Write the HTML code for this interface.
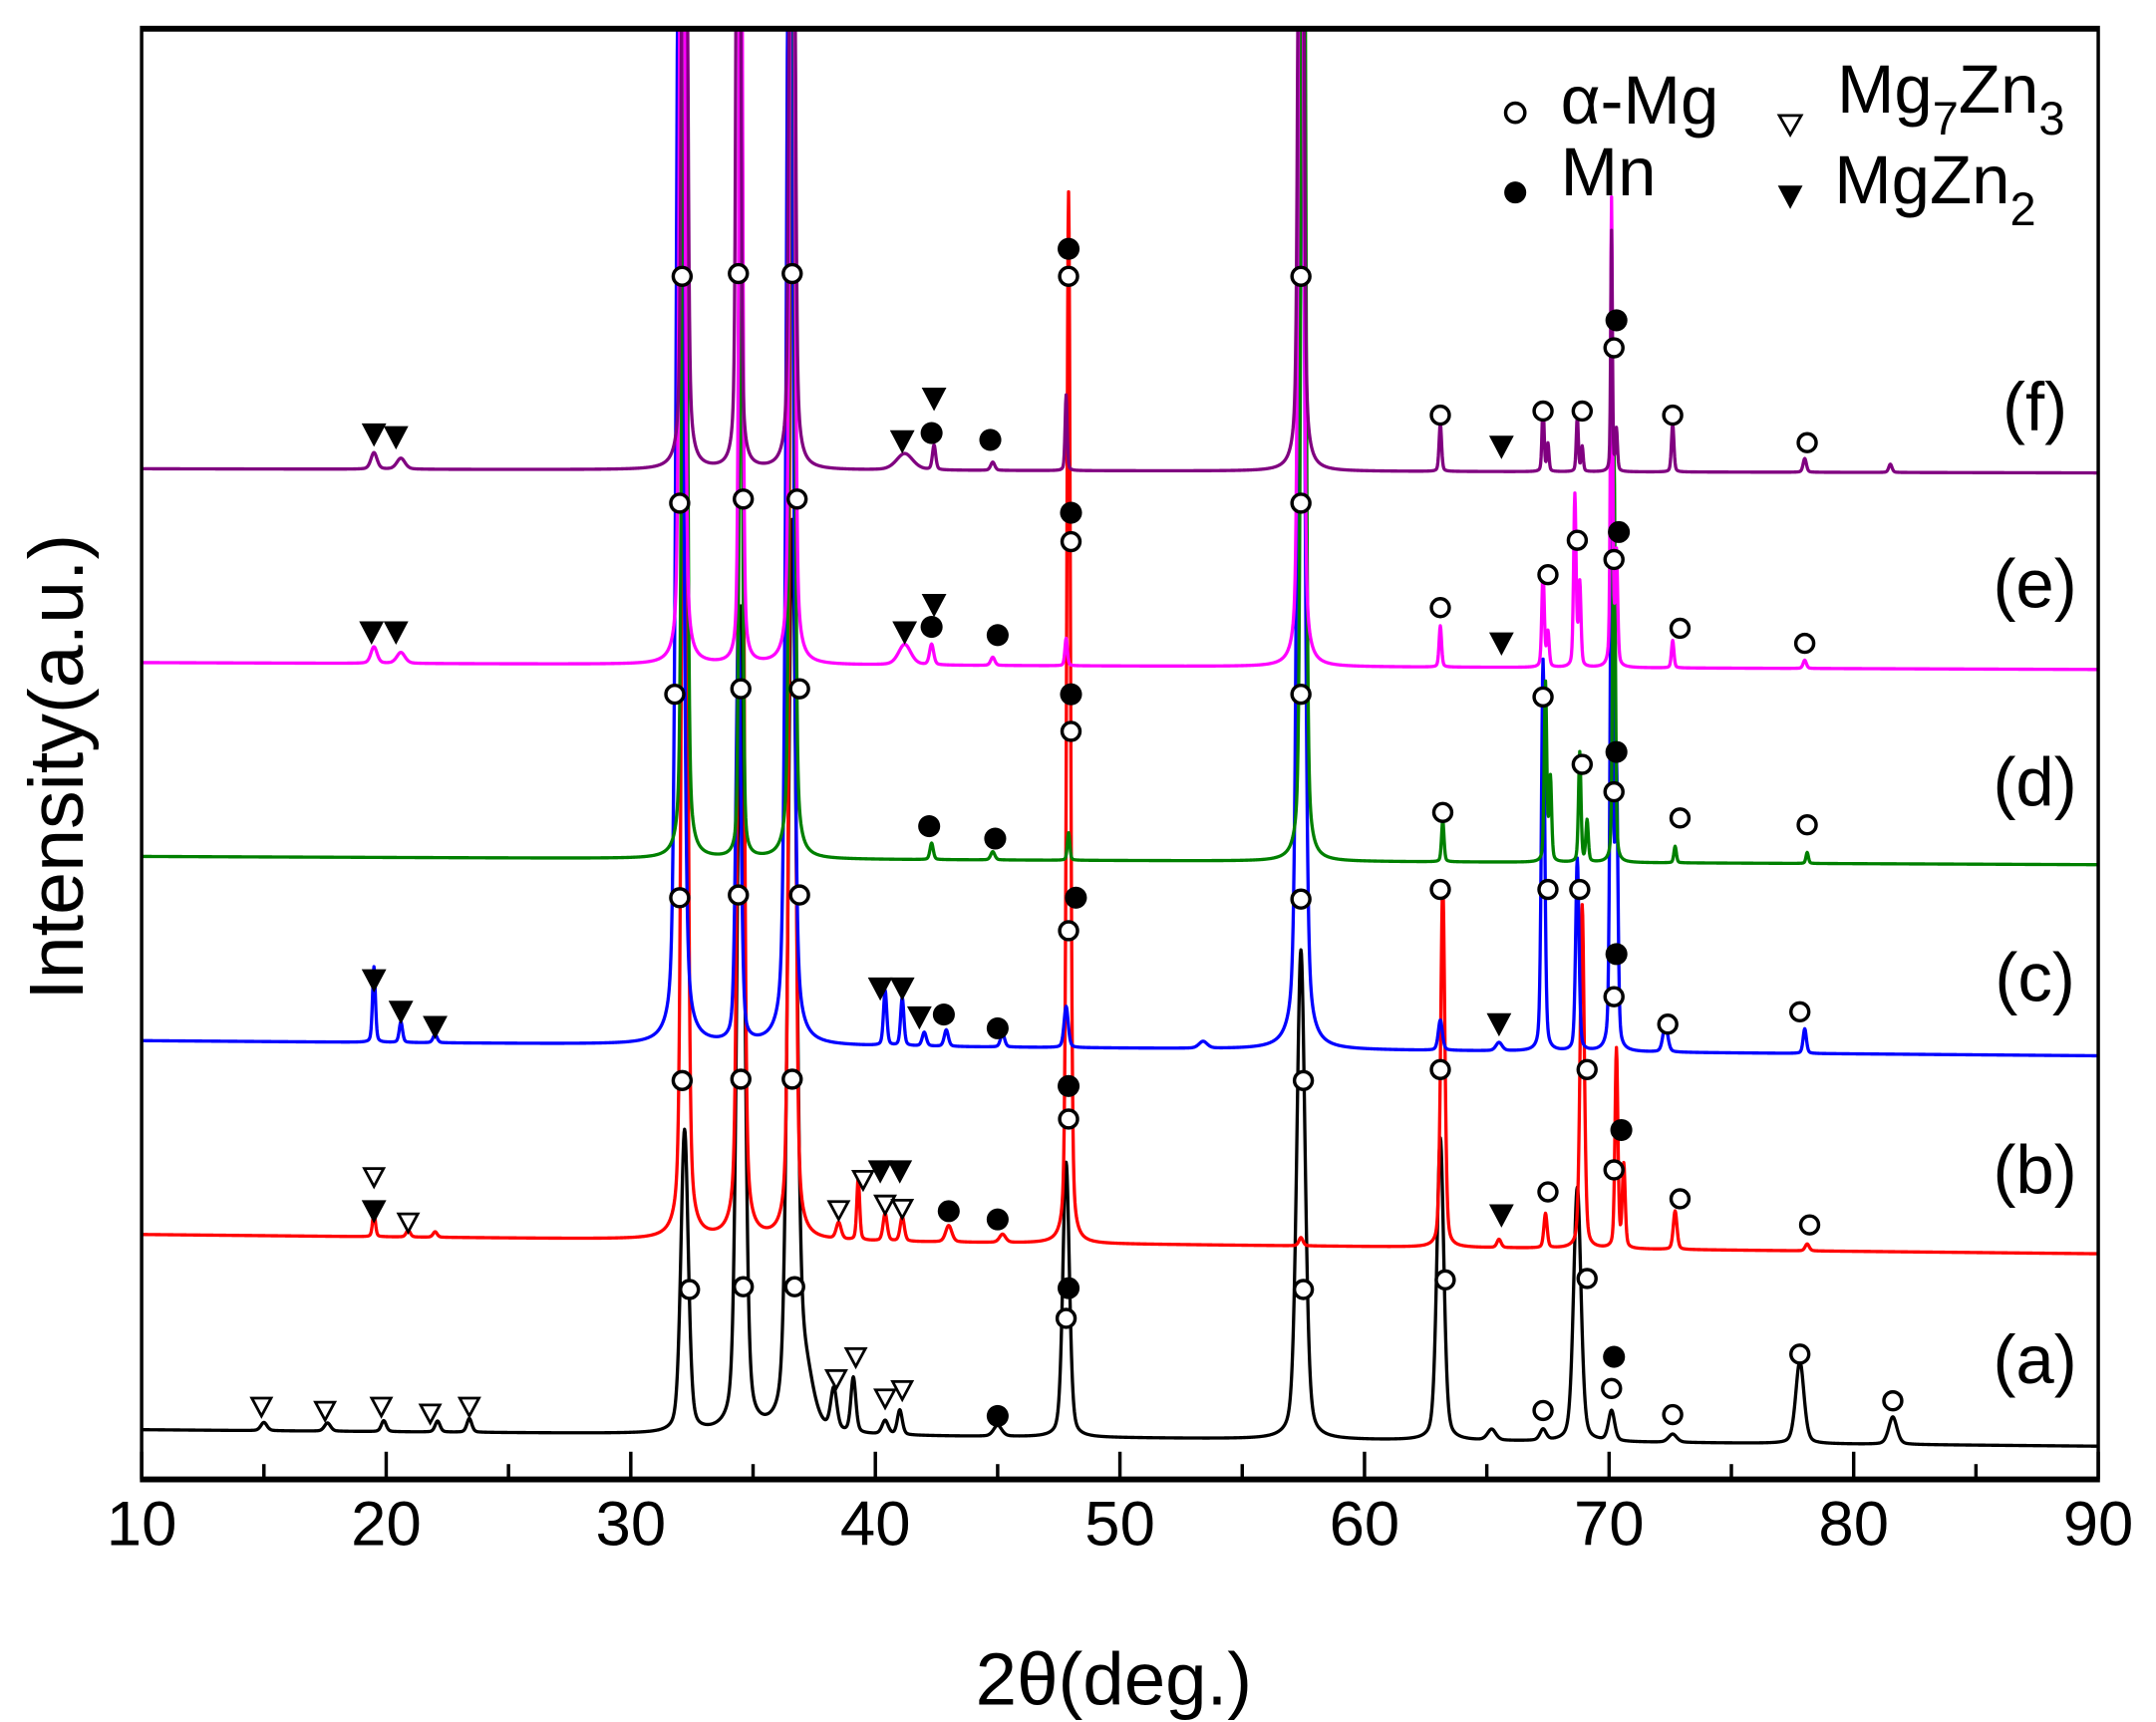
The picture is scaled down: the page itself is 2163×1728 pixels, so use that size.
<!DOCTYPE html>
<html><head><meta charset="utf-8"><style>
html,body{margin:0;padding:0;background:#fff}
svg{display:block}
text{font-family:"Liberation Sans",sans-serif;fill:#000}
</style></head><body>
<svg id="chart" width="2163" height="1728" viewBox="0 0 1568 1252.6" preserveAspectRatio="none" xmlns="http://www.w3.org/2000/svg">
<defs><clipPath id="pc"><rect x="103" y="20" width="1423" height="1057"/></clipPath></defs>
<g id="series" clip-path="url(#pc)"></g>
<g id="markers"></g>
<rect x="103" y="20" width="1423" height="1057" fill="none" stroke="#000" stroke-width="2.5"/>
<line x1="103" y1="21" x2="1526" y2="21" stroke="#000" stroke-width="4"/>
<line x1="103" y1="1076" x2="1526" y2="1076" stroke="#000" stroke-width="4"/>
<g id="ticks"></g>
<text x="810" y="1240" font-size="54" text-anchor="middle">2θ(deg.)</text>
<text transform="translate(60,558) rotate(-90)" font-size="56" text-anchor="middle">Intensity(a.u.)</text>
<g>
<circle cx="1102" cy="82" r="7" fill="#fff" stroke="#000" stroke-width="2.5"/>
<text x="1135" y="90" font-size="50">α-Mg</text>
<path d="M1294,84 L1310,84 L1302,98 Z" fill="#fff" stroke="#000" stroke-width="2"/>
<text x="1336" y="82" font-size="50">Mg<tspan font-size="34" dy="16">7</tspan><tspan dy="-16">Zn</tspan><tspan font-size="34" dy="16">3</tspan></text>
<circle cx="1102" cy="140" r="8" fill="#000"/>
<text x="1135" y="142" font-size="50">Mn</text>
<path d="M1293,135 L1311,135 L1302,152 Z" fill="#000"/>
<text x="1334" y="148" font-size="50">MgZn<tspan font-size="34" dy="16">2</tspan></text>
</g>
<g font-size="50" text-anchor="middle">
<text x="1480" y="313">(f)</text>
<text x="1480" y="442">(e)</text>
<text x="1480" y="586">(d)</text>
<text x="1480" y="728">(c)</text>
<text x="1480" y="868">(b)</text>
<text x="1480" y="1006">(a)</text>
</g>
</svg>
<script>
const xTicks=[10,20,30,40,50,60,70,80,90];
const xMinorTicks=[15,25,35,45,55,65,75,85];
// series: baseline start/end (display units), peak positions, heights, widths
const seriesNames=["a","b","c","d","e","f"];
const seriesColors=["#000000","#ff0000","#0000ff","#008000","#ff00ff","#800080"];
const baseStart=[1040,898,757,623,482,341];
const baseEnd=[1052,912,768,629,487,344];
const posA=[15,17.6,19.9,22.1,23.4,32.2,34.5,36.6,37.1,38.3,39.1,40.4,41.0,45.0,47.8,57.4,63.1,65.2,67.3,68.7,70.1,72.6,77.8,81.6];
const hA=[6,6,8,8,10,220,600,650,40,30,40,10,18,8,200,356,220,8,8,185,22,6,60,20];
const wA=[0.15,0.15,0.12,0.12,0.12,0.18,0.18,0.2,0.4,0.15,0.12,0.15,0.12,0.2,0.16,0.2,0.17,0.2,0.15,0.18,0.15,0.2,0.2,0.2];
const posB=[19.5,20.9,22,32.2,34.5,36.6,38.5,39.3,40.4,41.1,43,45.2,47.9,57.4,63.2,65.5,67.4,68.9,70.3,70.6,72.7,78.1];
const hB=[18,5,4,1000,1000,1000,12,45,20,18,12,6,765,6,265,6,25,250,145,60,28,5];
const wB=[0.07,0.1,0.1,0.12,0.12,0.12,0.12,0.07,0.1,0.1,0.15,0.15,0.09,0.1,0.1,0.1,0.08,0.1,0.07,0.07,0.09,0.1];
const posC=[19.5,20.6,22,32.0,34.4,36.5,40.4,41.1,42,42.9,45.2,47.8,53.4,57.4,63.1,65.5,67.3,68.7,70.1,70.3,72.3,78];
const hC=[55,15,6,1000,300,1000,40,35,10,12,10,30,5,1000,22,6,285,140,400,200,20,18];
const wC=[0.07,0.08,0.1,0.15,0.12,0.15,0.08,0.08,0.1,0.1,0.1,0.1,0.2,0.15,0.1,0.15,0.08,0.08,0.07,0.07,0.12,0.08];
const posD=[32.2,34.5,36.6,42.3,44.8,47.9,57.5,63.2,67.4,67.6,68.8,69.1,70.2,72.7,78.1];
const hD=[1000,500,1000,12,6,20,1000,30,130,60,80,30,300,12,8];
const wD=[0.1,0.08,0.1,0.08,0.1,0.06,0.1,0.06,0.06,0.06,0.06,0.06,0.06,0.06,0.06];
const posE=[19.5,20.6,32.1,34.5,36.6,41.2,42.3,44.8,47.8,57.4,63.1,67.3,67.5,68.6,68.8,70.1,70.3,72.6,78];
const hE=[12,8,1000,700,1000,15,15,6,20,1000,30,70,25,125,60,340,80,20,6];
const wE=[0.15,0.2,0.1,0.08,0.1,0.3,0.1,0.1,0.06,0.1,0.06,0.06,0.06,0.06,0.06,0.05,0.06,0.06,0.08];
const posF=[19.5,20.6,32.2,34.4,36.6,41.2,42.4,44.8,47.8,57.4,63.1,67.3,67.5,68.7,68.9,70.1,70.3,72.6,78,81.5];
const hF=[12,8,1000,1000,1000,12,18,6,55,1000,35,50,20,40,18,175,30,35,10,6];
const wF=[0.15,0.2,0.1,0.08,0.1,0.4,0.08,0.1,0.05,0.1,0.06,0.05,0.05,0.05,0.05,0.04,0.05,0.06,0.08,0.08];
const allPos=[posA,posB,posC,posD,posE,posF];
const allH=[hA,hB,hC,hD,hE,hF];
const allW=[wA,wB,wC,wD,wE,wF];
// markers: [2theta, y(display), type] o=open circle, f=filled circle, t=open triangle, T=filled triangle
const markersF=[[19.5,316,"T"],[20.4,318,"T"],[32.1,201,"o"],[34.4,199,"o"],[36.6,199,"o"],[47.9,181,"f"],[47.9,201,"o"],[57.4,201,"o"],[41.1,321,"T"],[42.3,315,"f"],[42.4,290,"T"],[44.7,320,"f"],[63.1,302,"o"],[65.6,325,"T"],[67.3,299,"o"],[68.9,299,"o"],[70.3,233,"f"],[70.2,253,"o"],[72.6,302,"o"],[78.1,322,"o"]];
const markersE=[[19.4,460,"T"],[20.4,460,"T"],[32.0,366,"o"],[34.6,363,"o"],[36.8,363,"o"],[41.2,460,"T"],[42.4,440,"T"],[42.3,456,"f"],[45,462,"f"],[48,373,"f"],[48,394,"o"],[57.4,366,"o"],[63.1,442,"o"],[65.6,468,"T"],[67.5,418,"o"],[68.7,393,"o"],[70.4,387,"f"],[70.2,407,"o"],[72.9,457,"o"],[78,468,"o"]];
const markersD=[[31.8,505,"o"],[34.5,501,"o"],[36.9,501,"o"],[42.2,601,"f"],[44.9,610,"f"],[48,505,"f"],[48,532,"o"],[57.4,505,"o"],[63.2,591,"o"],[67.3,507,"o"],[68.9,556,"o"],[70.3,547,"f"],[70.2,576,"o"],[72.9,595,"o"],[78.1,600,"o"]];
const markersC=[[19.5,713,"T"],[20.6,736,"T"],[22,747,"T"],[32.0,653,"o"],[34.4,651,"o"],[36.9,651,"o"],[40.2,719,"T"],[41.1,719,"T"],[41.8,740,"T"],[42.8,738,"f"],[45,748,"f"],[48.2,653,"f"],[47.9,677,"o"],[57.4,654,"o"],[63.1,647,"o"],[65.5,745,"T"],[67.5,647,"o"],[68.8,647,"o"],[70.3,694,"f"],[70.2,725,"o"],[72.4,745,"o"],[77.8,736,"o"]];
const markersB=[[19.5,856,"t"],[19.5,881,"T"],[20.9,889,"t"],[32.1,786,"o"],[34.5,785,"o"],[36.6,785,"o"],[38.5,880,"t"],[39.5,858,"t"],[40.2,852,"T"],[41.0,852,"T"],[40.4,876,"t"],[41.1,879,"t"],[43,881,"f"],[45,887,"f"],[47.9,790,"f"],[47.9,814,"o"],[57.5,786,"o"],[63.1,778,"o"],[65.6,884,"T"],[67.5,867,"o"],[69.1,778,"o"],[70.5,822,"f"],[70.2,851,"o"],[72.9,872,"o"],[78.2,891,"o"]];
const markersA=[[14.9,1023,"t"],[17.5,1026,"t"],[19.8,1023,"t"],[21.8,1028,"t"],[23.4,1023,"t"],[32.4,938,"o"],[34.6,936,"o"],[36.7,936,"o"],[38.4,1003,"t"],[39.2,987,"t"],[40.4,1017,"t"],[41.1,1011,"t"],[45,1030,"f"],[47.9,937,"f"],[47.8,959,"o"],[57.5,938,"o"],[63.3,931,"o"],[67.3,1026,"o"],[69.1,930,"o"],[70.2,987,"f"],[70.1,1010,"o"],[72.6,1029,"o"],[77.8,985,"o"],[81.6,1019,"o"]];
const allMarkers=[markersA,markersB,markersC,markersD,markersE,markersF];

const NS="http://www.w3.org/2000/svg";
const X0=103,X1=1526,D0=10,D1=90;
const ETA=0.35;
function xs(d){return X0+(d-D0)*(X1-X0)/(D1-D0);}

const tg=document.getElementById("ticks");
xTicks.forEach(t=>{
  const l=document.createElementNS(NS,"line");
  l.setAttribute("x1",xs(t));l.setAttribute("x2",xs(t));l.setAttribute("y1",1076);l.setAttribute("y2",1056);
  l.setAttribute("stroke","#000");l.setAttribute("stroke-width","2.5");
  
  
  tg.appendChild(l);
  const tx=document.createElementNS(NS,"text");
  tx.setAttribute("x",xs(t));tx.setAttribute("y",1124);tx.setAttribute("font-size","46");tx.setAttribute("text-anchor","middle");
  tx.textContent=t;
  
  
  tg.appendChild(tx);
});
xMinorTicks.forEach(t=>{
  const l=document.createElementNS(NS,"line");
  l.setAttribute("x1",xs(t));l.setAttribute("x2",xs(t));l.setAttribute("y1",1076);l.setAttribute("y2",1065);
  l.setAttribute("stroke","#000");l.setAttribute("stroke-width","2.5");
  
  
  tg.appendChild(l);
});

const sg=document.getElementById("series");
for(let s=0;s<6;s++){
  const P=allPos[s],H=allH[s],W=allW[s];
  let d="";
  for(let x=D0;x<=D1+1e-9;x+=0.02){
    let y=baseStart[s]+(baseEnd[s]-baseStart[s])*(x-D0)/(D1-D0);
    for(let i=0;i<P.length;i++){const u=(x-P[i])/W[i];y-=H[i]*(ETA/(1+u*u)+(1-ETA)*Math.exp(-0.693*u*u));}
    if(y<0)y=0;
    d+=(d?"L":"M")+xs(x).toFixed(2)+","+y.toFixed(2);
  }
  const p=document.createElementNS(NS,"path");
  p.setAttribute("d",d);p.setAttribute("fill","none");p.setAttribute("stroke",seriesColors[s]);
  p.setAttribute("stroke-width","2.4");p.setAttribute("stroke-linejoin","round");
  
  
  sg.appendChild(p);
}

const mg=document.getElementById("markers");
allMarkers.forEach((arr,s)=>{
  arr.forEach(m=>{
    const cx=xs(m[0]),cy=m[1];let el;
    if(m[2]==="o"||m[2]==="f"){
      el=document.createElementNS(NS,"circle");
      el.setAttribute("cx",cx);el.setAttribute("cy",cy);
      if(m[2]==="o"){el.setAttribute("r","6.5");el.setAttribute("fill","#fff");el.setAttribute("stroke","#000");el.setAttribute("stroke-width","2.5");}
      else{el.setAttribute("r","8");el.setAttribute("fill","#000");}
    }else{
      el=document.createElementNS(NS,"path");
      if(m[2]==="t"){el.setAttribute("d",`M${cx-7},${cy-6}L${cx+7},${cy-6}L${cx},${cy+7}Z`);el.setAttribute("fill","#fff");el.setAttribute("stroke","#000");el.setAttribute("stroke-width","2");}
      else{el.setAttribute("d",`M${cx-9},${cy-8}L${cx+9},${cy-8}L${cx},${cy+9}Z`);el.setAttribute("fill","#000");}
    }
    
    
    mg.appendChild(el);
  });
});
</script>
</body></html>
